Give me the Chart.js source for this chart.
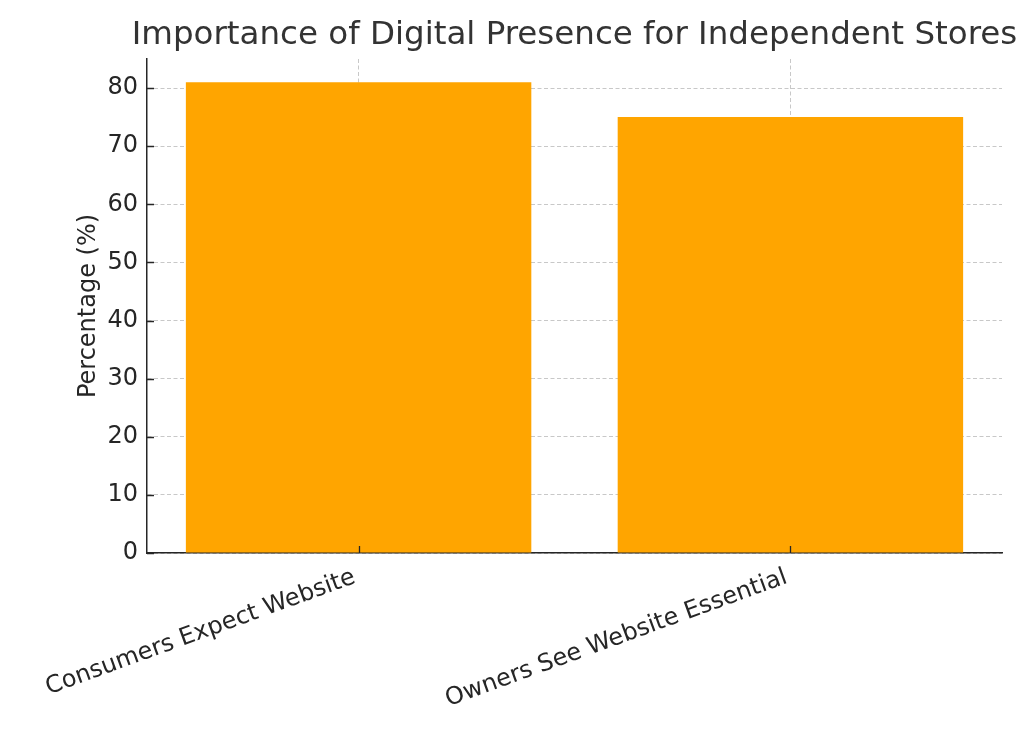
<!DOCTYPE html>
<html>
<head>
<meta charset="utf-8">
<script src="https://cdn.jsdelivr.net/npm/chart.js@4/dist/chart.umd.min.js"></script>
<style>
  html, body { margin: 0; padding: 0; background: #ffffff; }
  #wrap { width: 1024px; height: 731px; }
</style>
</head>
<body>
<div id="wrap"><canvas id="c" width="1024" height="731"></canvas></div>
<script>
const categories = ["Consumers Expect Website", "Owners See Website Essential"];
const percentages = [81, 75];
const yTickValues = [0, 10, 20, 30, 40, 50, 60, 70, 80];
const chartTitle = "Importance of Digital Presence for Independent Stores";
const yAxisTitle = "Percentage (%)";

const FONT = "'DejaVu Sans', sans-serif";

const barData = categories.map((c, i) => ({ x: i, y: percentages[i] }));

// Center the title over the plot area (like matplotlib)
const titleCenterPlugin = {
  id: 'titleCenter',
  afterLayout(chart) {
    const tb = chart.titleBlock;
    if (!tb) return;
    const c = (chart.chartArea.left + chart.chartArea.right) / 2;
    tb.left = c - 512;
    tb.right = c + 512;
  }
};

// Inward tick marks, positioned through the scales
const inwardTicksPlugin = {
  id: 'inwardTicks',
  afterDraw(chart) {
    const ctx = chart.ctx;
    const x = chart.scales.x, y = chart.scales.y;
    const len = 7;
    ctx.save();
    ctx.strokeStyle = '#262626';
    ctx.lineWidth = 1.3;
    ctx.setLineDash([]);
    ctx.beginPath();
    y.ticks.forEach((t, i) => {
      const py = Math.round(y.getPixelForTick(i)) + 0.5;
      ctx.moveTo(x.left, py);
      ctx.lineTo(x.left + len, py);
    });
    x.ticks.forEach((t, i) => {
      const px = Math.round(x.getPixelForTick(i)) + 0.5;
      ctx.moveTo(px, y.bottom);
      ctx.lineTo(px, y.bottom - len);
    });
    ctx.stroke();
    ctx.restore();
  }
};

new Chart(document.getElementById('c'), {
  type: 'bar',
  data: {
    datasets: [{
      data: barData,
      backgroundColor: '#FFA500',
      borderWidth: 0,
      barPercentage: 0.8,
      categoryPercentage: 1.0
    }]
  },
  options: {
    responsive: false,
    animation: false,
    devicePixelRatio: 1,
    layout: { padding: { left: 0, right: 22, top: 0, bottom: 0 } },
    plugins: {
      legend: { display: false },
      tooltip: { enabled: false },
      title: {
        display: true,
        text: chartTitle,
        color: '#333333',
        font: { family: FONT, size: 32.5, weight: 'normal' },
        padding: { top: 16, bottom: 4 }
      }
    },
    scales: {
      x: {
        type: 'linear',
        min: -0.49,
        max: 1.49,
        offset: false,
        z: 1,
        afterBuildTicks(s) {
          s.ticks = categories.map((c, i) => ({ value: i }));
        },
        grid: {
          display: true,
          offset: false,
          color: '#c8c8c8',
          lineWidth: 1,
          drawTicks: false
        },
        border: { display: true, color: '#262626', width: 1.5, dash: [4, 2.5] },
        ticks: {
          color: '#262626',
          font: { family: FONT, size: 24 },
          minRotation: 20,
          maxRotation: 20,
          padding: 10,
          labelOffset: -4,
          autoSkip: false,
          callback: (v) => categories[v]
        },
        afterFit(s) { s.height = 731 - 553; }
      },
      y: {
        type: 'linear',
        min: 0,
        max: 85,
        z: 1,
        afterBuildTicks(s) {
          s.ticks = yTickValues.map(v => ({ value: v }));
        },
        grid: {
          display: true,
          color: '#c8c8c8',
          lineWidth: 1,
          drawTicks: false
        },
        border: { display: true, color: '#262626', width: 1.5, dash: [4, 2.5] },
        ticks: {
          color: '#262626',
          font: { family: FONT, size: 24 },
          padding: 9
        },
        title: {
          display: true,
          text: yAxisTitle,
          color: '#262626',
          font: { family: FONT, size: 24 },
          padding: { top: 74, bottom: 0 }
        },
        afterFit(s) { s.width = 147; }
      }
    }
  },
  plugins: [titleCenterPlugin, inwardTicksPlugin]
});
</script>
</body>
</html>
